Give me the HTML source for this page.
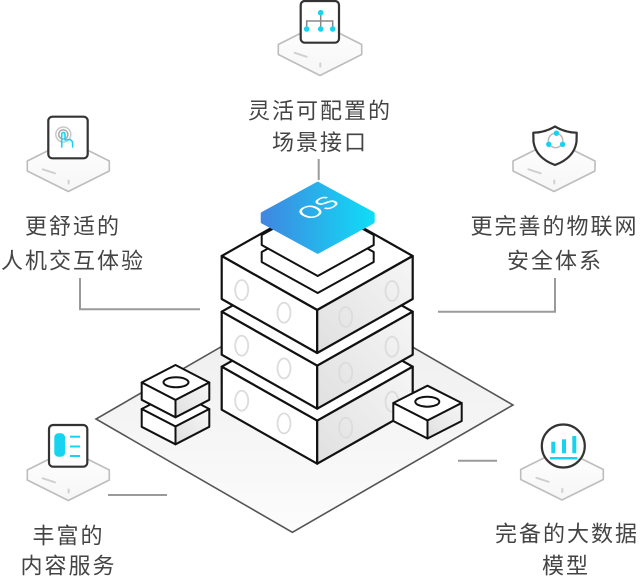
<!DOCTYPE html>
<html><head><meta charset="utf-8"><style>
html,body{margin:0;padding:0;background:#fff;width:640px;height:580px;overflow:hidden}
svg{display:block}
.t{font-family:"Liberation Sans","Noto Sans CJK SC",sans-serif;font-size:22px;fill:#444;text-anchor:middle;letter-spacing:2px}
</style></head><body>
<svg width="640" height="580" viewBox="0 0 640 580" xmlns="http://www.w3.org/2000/svg">
<defs>
<linearGradient id="pf" x1="0" y1="0" x2="0" y2="1"><stop offset="0" stop-color="#ececec"/><stop offset="1" stop-color="#fcfcfc"/></linearGradient>
<linearGradient id="rf" x1="0" y1="1" x2="1" y2="0"><stop offset="0" stop-color="#e0e0e0"/><stop offset="1" stop-color="#f6f6f6"/></linearGradient>
<linearGradient id="os" x1="0" y1="0" x2="1" y2="0"><stop offset="0" stop-color="#4087e0"/><stop offset="1" stop-color="#10dcf6"/></linearGradient>
<linearGradient id="ip" x1="0" y1="0" x2="0" y2="1"><stop offset="0" stop-color="#ffffff"/><stop offset="1" stop-color="#f6f6f6"/></linearGradient>
</defs>

<!-- connectors -->
<g stroke="#9a9a9a" stroke-width="2" fill="none">
<line x1="318.7" y1="159" x2="318.7" y2="180"/>
<polyline points="80,278 80,309.3 200,309.3"/>
<polyline points="438,311.7 555,311.7 555,278"/>
<line x1="108" y1="495" x2="167" y2="495"/>
<line x1="458" y1="460.7" x2="497" y2="460.7"/>
</g>

<!-- platform -->
<polygon points="316.6,291.7 513,405 292.4,532.3 96,419" fill="url(#pf)" stroke="#555" stroke-width="1.6"/>

<!-- tower -->
<g stroke="#111" stroke-width="2.2" stroke-linejoin="round">
<polygon points="221.7,366.7 317.2,312.7 412.7,366.7 317.2,420.7" fill="#fff"/>
<polygon points="221.7,366.7 317.2,420.7 317.2,463.7 221.7,409.7" fill="#fff"/>
<polygon points="317.2,420.7 412.7,366.7 412.7,409.7 317.2,463.7" fill="url(#rf)"/>
</g>
<g fill="none" stroke="#dcdcdc" stroke-width="1.8">
<ellipse cx="241.7" cy="400.7" rx="6.5" ry="10"/><ellipse cx="284" cy="423.4" rx="6.5" ry="10"/>
<ellipse cx="345.7" cy="427.7" rx="6.5" ry="10"/><ellipse cx="392" cy="401.7" rx="6.5" ry="10"/>
</g>
<g stroke="#111" stroke-width="2.2" stroke-linejoin="round">
<polygon points="221.7,311.7 317.2,257.7 412.7,311.7 317.2,365.7" fill="#fff"/>
<polygon points="221.7,311.7 317.2,365.7 317.2,408.7 221.7,354.7" fill="#fff"/>
<polygon points="317.2,365.7 412.7,311.7 412.7,354.7 317.2,408.7" fill="url(#rf)"/>
</g>
<g fill="none" stroke="#dcdcdc" stroke-width="1.8">
<ellipse cx="241.7" cy="345.7" rx="6.5" ry="10"/><ellipse cx="284" cy="368.4" rx="6.5" ry="10"/>
<ellipse cx="345.7" cy="372.7" rx="6.5" ry="10"/><ellipse cx="392" cy="346.7" rx="6.5" ry="10"/>
</g>
<g stroke="#111" stroke-width="2.2" stroke-linejoin="round">
<polygon points="221.7,256 317.2,202 412.7,256 317.2,310" fill="#fff"/>
<polygon points="221.7,256 317.2,310 317.2,353 221.7,299" fill="#fff"/>
<polygon points="317.2,310 412.7,256 412.7,299 317.2,353" fill="url(#rf)"/>
</g>
<g fill="none" stroke="#dcdcdc" stroke-width="1.8">
<ellipse cx="241.7" cy="290" rx="6.5" ry="10"/><ellipse cx="284" cy="312.7" rx="6.5" ry="10"/>
<ellipse cx="345.7" cy="317" rx="6.5" ry="10"/><ellipse cx="392" cy="291" rx="6.5" ry="10"/>
</g>

<!-- slabs -->
<g stroke="#111" stroke-width="2" stroke-linejoin="round" fill="#fff">
<polygon points="317.7,221 373.7,252 373.7,262 317.7,293 261.7,262 261.7,252"/>
<polygon points="317.7,204 373.7,235 373.7,245 317.7,276 261.7,245 261.7,235"/>
</g>
<!-- OS tile -->
<polygon points="317.7,183.7 372.7,213.7 372.7,221.7 317.7,251.7 262.7,221.7 262.7,213.7" fill="url(#os)" stroke="url(#os)" stroke-width="4" stroke-linejoin="round"/>
<text transform="translate(318.3,208) matrix(0.87,-0.49,0.87,0.49,0,0)" font-family="Liberation Sans, sans-serif" font-size="25" fill="#fff" text-anchor="middle" dominant-baseline="central">OS</text>

<!-- small blocks left -->
<g stroke="#111" stroke-width="2" stroke-linejoin="round">
<polygon points="141.7,409 175.5,391.5 209.3,409 175.5,426.5" fill="#fff"/>
<polygon points="141.7,409 175.5,426.5 175.5,444.3 141.7,426.8" fill="#fff"/>
<polygon points="175.5,426.5 209.3,409 209.3,426.8 175.5,444.3" fill="url(#rf)"/>
<polygon points="141.7,382.5 175.5,365 209.3,382.5 175.5,400" fill="#fff"/>
<polygon points="141.7,382.5 175.5,400 175.5,417.3 141.7,399.8" fill="#fff"/>
<polygon points="175.5,400 209.3,382.5 209.3,399.8 175.5,417.3" fill="url(#rf)"/>
<ellipse cx="176" cy="382.3" rx="12.5" ry="5" fill="#fff"/>
<polygon points="393.3,403 427.5,385.7 461.7,403 427.5,420.5" fill="#fff"/>
<polygon points="393.3,403 427.5,420.5 427.5,438.5 393.3,421" fill="#fff"/>
<polygon points="427.5,420.5 461.7,403 461.7,421 427.5,438.5" fill="url(#rf)"/>
<ellipse cx="427.3" cy="401.7" rx="12" ry="5" fill="#fff"/>
</g>

<!-- icon platforms -->
<g stroke="#bdbdbd" stroke-width="1.6" stroke-linejoin="round" fill="url(#ip)">
<polygon points="320,23.5 361.7,44.5 361.7,54.5 320,75.5 278.3,54.5 278.3,44.5"/>
<polygon points="68.3,140.5 109.3,161 109.3,171 68.3,191.5 27.3,171 27.3,161"/>
<polygon points="554,140.5 595,161 595,171 554,191.5 513,171 513,161"/>
<polygon points="68.3,449.5 109.3,470 109.3,480 68.3,500.5 27.3,480 27.3,470"/>
<polygon points="562,449 603.3,469.5 603.3,479.5 562,500 520.7,479.5 520.7,469.5"/>
</g>
<g stroke="#d0d0d0" stroke-width="2" stroke-linecap="round">
<line x1="294.6" y1="52.8" x2="306.7" y2="56.8"/><line x1="320.3" y1="63.5" x2="320.3" y2="66.5"/>
<line x1="42.7" y1="169.3" x2="55" y2="173.3"/><line x1="68.6" y1="180.5" x2="68.6" y2="183.5"/>
<line x1="528.4" y1="169.3" x2="540.7" y2="173.3"/><line x1="554.3" y1="180.5" x2="554.3" y2="183.5"/>
<line x1="42.7" y1="478.3" x2="55" y2="482.3"/><line x1="68.6" y1="489.5" x2="68.6" y2="492.5"/>
<line x1="536.4" y1="477.8" x2="548.7" y2="481.8"/><line x1="562.3" y1="489" x2="562.3" y2="492"/>
</g>

<!-- icon boxes -->
<g stroke="#333" stroke-width="2.2" fill="#fff">
<rect x="300.7" y="1" width="38.3" height="41.7" rx="4"/>
<rect x="48.3" y="116.7" width="39.4" height="41.6" rx="4"/>
<rect x="49" y="425" width="38.3" height="41.7" rx="4"/>
<path d="M555,126.5 Q545,132.5 533.3,132.7 L533.5,142 Q536,158 555,165 Q574,158 576.5,142 L576.7,132.7 Q565,132.5 555,126.5 Z" stroke-linejoin="round"/>
<circle cx="563.3" cy="446" r="21.5"/>
</g>

<!-- top icon: org chart -->
<g stroke="#888" stroke-width="1.5" fill="none">
<polyline points="320.7,12.7 320.7,21"/>
<polyline points="306.7,29 306.7,21 332.7,21 332.7,29"/>
<line x1="320.7" y1="21" x2="320.7" y2="29"/>
</g>
<g fill="#16d4f0">
<circle cx="320.7" cy="12.7" r="2.8"/><circle cx="306.7" cy="29" r="2.8"/><circle cx="320.7" cy="29" r="2.8"/><circle cx="332.7" cy="29" r="2.8"/>
</g>

<!-- left icon: touch -->
<circle cx="63.3" cy="134.5" r="7.5" fill="none" stroke="#c8c8c8" stroke-width="1.5"/>
<circle cx="63.3" cy="134.5" r="4.6" fill="none" stroke="#aaa" stroke-width="1.5"/>
<path d="M61.7,147 L61.7,134.5 Q61.7,132.5 63.4,132.5 Q65,132.5 65,134.5 L65,140 L68.5,139.5 Q72.6,139.5 72.6,143.5 L72.6,147" fill="none" stroke="#16d4f0" stroke-width="1.6" stroke-linecap="round" stroke-linejoin="round"/>

<!-- right icon: shield inner -->
<circle cx="555.6" cy="140.5" r="7.2" fill="none" stroke="#bbb" stroke-width="1.5"/>
<g fill="#16d4f0"><circle cx="556.4" cy="133.2" r="2.7"/><circle cx="548.8" cy="144.3" r="2.7"/><circle cx="562.6" cy="144.3" r="2.7"/></g>

<!-- bottom-left icon -->
<rect x="54.3" y="433.3" width="10.7" height="23.4" rx="4" fill="#16d4f0"/>
<g stroke="#16d4f0" stroke-width="2"><line x1="70" y1="436.7" x2="80" y2="436.7"/><line x1="70" y1="446.5" x2="80" y2="446.5"/><line x1="70" y1="456" x2="80" y2="456"/></g>

<!-- bottom-right icon bars -->
<g fill="#16d4f0">
<rect x="551.3" y="441.7" width="4" height="11.6"/>
<rect x="562" y="439.3" width="4" height="14"/>
<rect x="572.3" y="436" width="4" height="17.3"/>
</g>
<line x1="550" y1="458.3" x2="577.3" y2="458.3" stroke="#16d4f0" stroke-width="2.5"/>

<!-- labels -->
<text class="t" x="320" y="118.4">灵活可配置的</text>
<text class="t" x="320" y="150.1">场景接口</text>
<text class="t" x="73" y="234.2">更舒适的</text>
<text class="t" x="73" y="268.4">人机交互体验</text>
<text class="t" x="554.5" y="234.2">更完善的物联网</text>
<text class="t" x="555" y="268.4">安全体系</text>
<text class="t" x="68.5" y="543.4">丰富的</text>
<text class="t" x="68.5" y="573.4">内容服务</text>
<text class="t" x="567" y="541.7">完备的大数据</text>
<text class="t" x="566" y="573.4">模型</text>
</svg>
</body></html>
